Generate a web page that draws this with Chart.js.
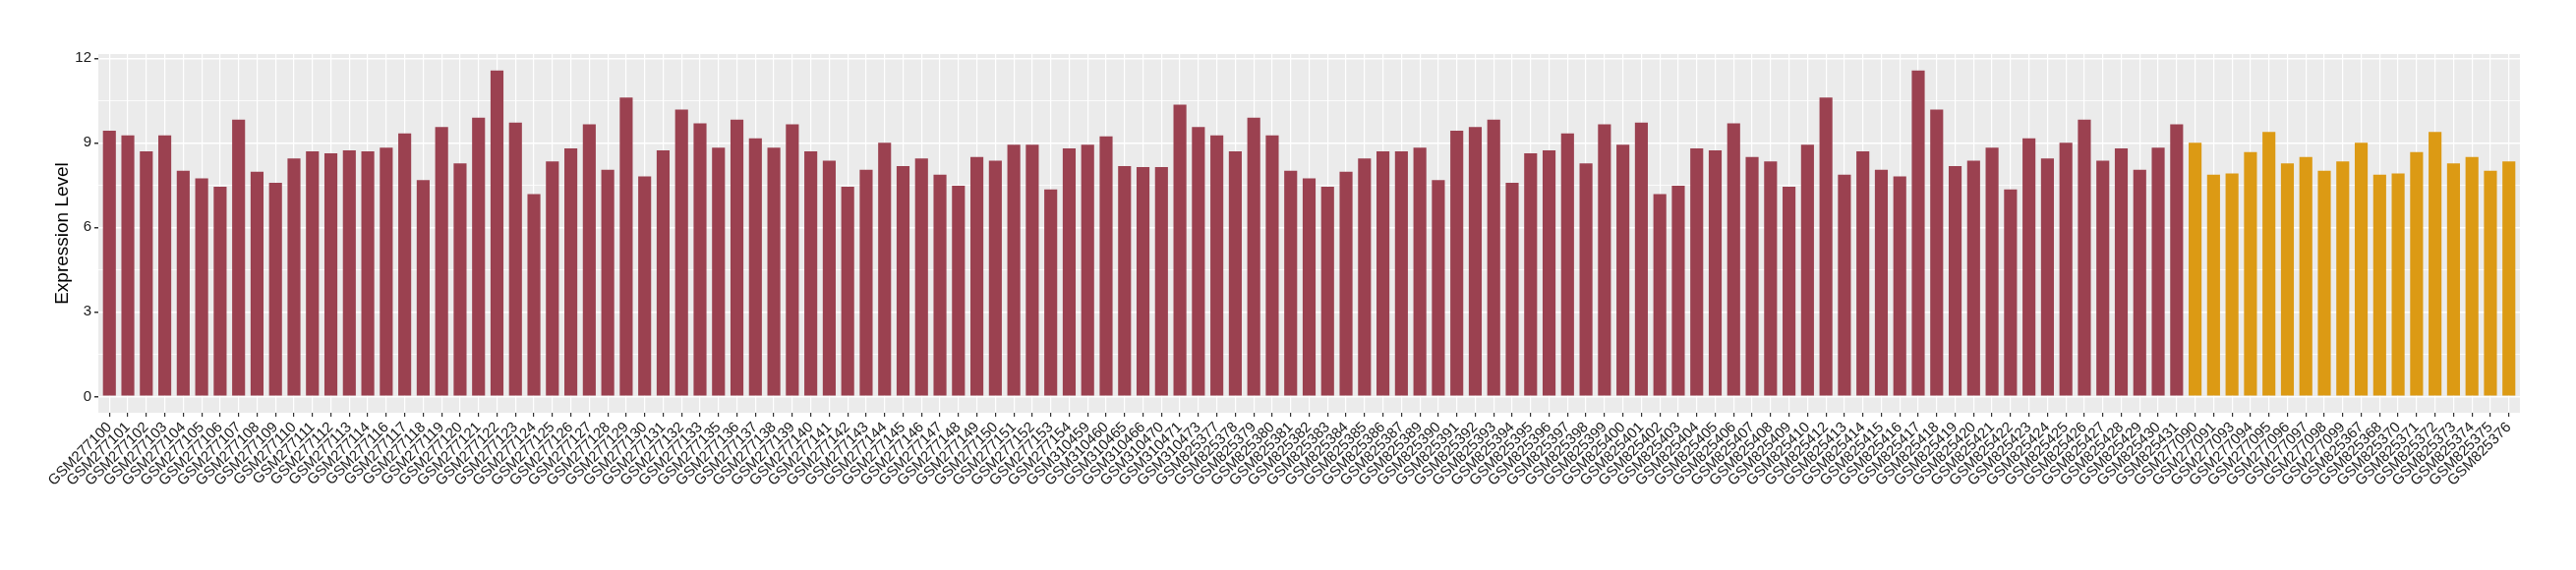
<!DOCTYPE html>
<html>
<head>
<meta charset="utf-8">
<title>Expression Level</title>
<script src="https://cdn.jsdelivr.net/npm/chart.js@4.4.1/dist/chart.umd.min.js"></script>
<style>
  html, body { margin: 0; padding: 0; background: #fff; }
  #wrap { width: 2620px; height: 580px; }
</style>
</head>
<body>
<div id="wrap"><canvas id="expressionChart" width="2620" height="580"></canvas></div>
<script>
// Expression level per sample, two sample groups (bar colour = group)

const samplesA = [
  'GSM277100','GSM277101','GSM277102','GSM277103','GSM277104','GSM277105','GSM277106','GSM277107',
  'GSM277108','GSM277109','GSM277110','GSM277111','GSM277112','GSM277113','GSM277114','GSM277116',
  'GSM277117','GSM277118','GSM277119','GSM277120','GSM277121','GSM277122','GSM277123','GSM277124',
  'GSM277125','GSM277126','GSM277127','GSM277128','GSM277129','GSM277130','GSM277131','GSM277132',
  'GSM277133','GSM277135','GSM277136','GSM277137','GSM277138','GSM277139','GSM277140','GSM277141',
  'GSM277142','GSM277143','GSM277144','GSM277145','GSM277146','GSM277147','GSM277148','GSM277149',
  'GSM277150','GSM277151','GSM277152','GSM277153','GSM277154','GSM310459','GSM310460','GSM310465',
  'GSM310466','GSM310470','GSM310471','GSM310473','GSM825377','GSM825378','GSM825379','GSM825380',
  'GSM825381','GSM825382','GSM825383','GSM825384','GSM825385','GSM825386','GSM825387','GSM825389',
  'GSM825390','GSM825391','GSM825392','GSM825393','GSM825394','GSM825395','GSM825396','GSM825397',
  'GSM825398','GSM825399','GSM825400','GSM825401','GSM825402','GSM825403','GSM825404','GSM825405',
  'GSM825406','GSM825407','GSM825408','GSM825409','GSM825410','GSM825412','GSM825413','GSM825414',
  'GSM825415','GSM825416','GSM825417','GSM825418','GSM825419','GSM825420','GSM825421','GSM825422',
  'GSM825423','GSM825424','GSM825425','GSM825426','GSM825427','GSM825428','GSM825429','GSM825430',
  'GSM825431'
];
const valuesA = [
  9.43, 9.26, 8.70, 9.26, 8.01, 7.74, 7.44, 9.82,
  7.97, 7.58, 8.44, 8.70, 8.63, 8.73, 8.70, 8.83,
  9.33, 7.68, 9.56, 8.27, 9.89, 11.57, 9.72, 7.18,
  8.34, 8.80, 9.66, 8.04, 10.61, 7.81, 8.73, 10.18,
  9.69, 8.83, 9.82, 9.16, 8.83, 9.66, 8.70, 8.37,
  7.44, 8.04, 9.00, 8.17, 8.44, 7.87, 7.48, 8.50,
  8.37, 8.93, 8.93, 7.35, 8.80, 8.93, 9.23, 8.17,
  8.14, 8.14, 10.35, 9.56, 9.26, 8.70, 9.89, 9.26,
  8.01, 7.74, 7.44, 7.97, 8.44, 8.70, 8.70, 8.83,
  7.68, 9.43, 9.56, 9.82, 7.58, 8.63, 8.73, 9.33,
  8.27, 9.66, 8.93, 9.72, 7.18, 7.48, 8.80, 8.73,
  9.69, 8.50, 8.34, 7.44, 8.93, 10.61, 7.87, 8.70,
  8.04, 7.81, 11.57, 10.18, 8.17, 8.37, 8.83, 7.35,
  9.16, 8.44, 9.00, 9.82, 8.37, 8.80, 8.04, 8.83,
  9.66
];

const samplesB = [
  'GSM277090','GSM277091','GSM277093','GSM277094','GSM277095','GSM277096','GSM277097','GSM277098',
  'GSM277099','GSM825367','GSM825368','GSM825370','GSM825371','GSM825372','GSM825373','GSM825374',
  'GSM825375','GSM825376'
];
const valuesB = [
  9.00, 7.87, 7.91, 8.67, 9.39, 8.27, 8.50, 8.01,
  8.34, 9.00, 7.87, 7.91, 8.67, 9.39, 8.27, 8.50,
  8.01, 8.34
];

const yTicks = [0, 3, 6, 9, 12];
const yMinorTicks = [1.5, 4.5, 7.5, 10.5];
const yRange = [-0.58, 12.15];

const colorA = '#9b4150';
const colorB = '#dc9a14';
const panelGrey = '#ebebeb';
const textColor = '#1a1a1a';
const fontFamily = '"Liberation Sans", Arial, Helvetica, sans-serif';

(function() {
  const labels = samplesA.concat(samplesB);
  const values = valuesA.concat(valuesB);
  const colors = samplesA.map(() => colorA).concat(samplesB.map(() => colorB));
  const yGrid = yTicks.concat(yMinorTicks).sort((a, b) => a - b);
  const isMajor = v => yTicks.indexOf(v) !== -1;

  // grey panel behind the plot, ggplot style
  const panelBg = {
    id: 'panelBg',
    beforeDraw(chart) {
      const { ctx, chartArea: a } = chart;
      ctx.save();
      ctx.fillStyle = panelGrey;
      ctx.fillRect(a.left, a.top, a.right - a.left, a.bottom - a.top);
      ctx.restore();
    }
  };

  const el = document.getElementById('expressionChart');
  new Chart(el.getContext('2d'), {
    type: 'bar',
    data: {
      labels,
      datasets: [{
        label: 'Expression Level',
        data: values,
        backgroundColor: colors,
        borderWidth: 0,
        barPercentage: 0.7,
        categoryPercentage: 1.0
      }]
    },
    options: {
      responsive: false,
      animation: false,
      layout: { padding: { top: 55, right: 57, bottom: 0, left: 0 } },
      plugins: { legend: { display: false }, tooltip: { enabled: false } },
      scales: {
        x: {
          type: 'category',
          // discrete axis expanded by 0.6 of a category on each side
          afterBuildTicks: s => {
            s._startValue = -0.6;
            s._valueRange = labels.length - 1 + 1.2;
          },
          afterFit: s => { s.height = 160; },
          border: { display: false },
          grid: { offset: false, color: '#ffffff', lineWidth: 1.2, tickColor: '#333333', tickLength: 4 },
          ticks: {
            autoSkip: false, maxRotation: 45, minRotation: 45, padding: 2,
            color: textColor, font: { family: fontFamily, size: 15 }
          }
        },
        y: {
          min: yRange[0],
          max: yRange[1],
          afterBuildTicks: s => { s.ticks = yGrid.map(v => ({ value: v })); },
          afterFit: s => { s.width = 100; },
          border: { display: false },
          grid: {
            color: '#ffffff',
            lineWidth: c => (c.tick && isMajor(c.tick.value)) ? 1.5 : 0.8,
            tickColor: c => (c.tick && isMajor(c.tick.value)) ? '#333333' : 'rgba(0,0,0,0)',
            tickLength: 4
          },
          ticks: {
            padding: 3,
            color: textColor,
            font: { family: fontFamily, size: 15 },
            callback: v => isMajor(v) ? String(v) : ''
          },
          title: {
            display: true,
            text: 'Expression Level',
            color: '#000000',
            padding: { top: 52, bottom: 0 },
            font: { family: fontFamily, size: 19 }
          }
        }
      }
    },
    plugins: [panelBg]
  });
})();
</script>
</body>
</html>
